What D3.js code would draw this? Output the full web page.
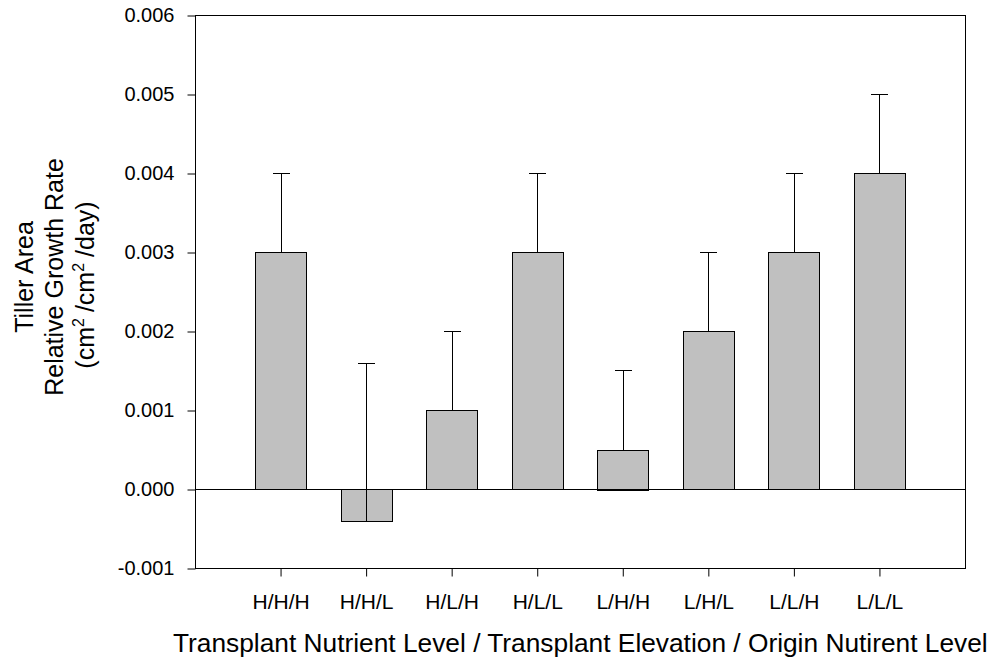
<!DOCTYPE html>
<html>
<head>
<meta charset="utf-8">
<script src="https://cdn.jsdelivr.net/npm/d3@7/dist/d3.min.js"></script>
<style>
  html, body { margin: 0; padding: 0; background: #fff; }
  svg { display: block; font-family: Arial, "Liberation Sans", sans-serif; }
</style>
</head>
<body>
<svg id="chart" width="997" height="666"></svg>
<script>
// Treatment groups: transplant nutrient / transplant elevation / origin nutrient
const categories = ["H/H/H", "H/H/L", "H/L/H", "H/L/L", "L/H/H", "L/H/L", "L/L/H", "L/L/L"];
// Mean tiller-area relative growth rate (cm²/cm²/day)
const meanRGR = [0.003, -0.0004, 0.001, 0.003, 0.0005, 0.002, 0.003, 0.004];
// Standard error, drawn upward from each mean
const errRGR = [0.001, 0.002, 0.001, 0.001, 0.001, 0.001, 0.001, 0.001];
// Y axis ticks
const yTicks = [-0.001, 0.000, 0.001, 0.002, 0.003, 0.004, 0.005, 0.006];

const svg = d3.select("#chart");
const plot = { left: 195, right: 965, top: 15, bottom: 568 };

const x = d3.scaleBand()
  .domain(categories)
  .range([plot.left, plot.right])
  .paddingInner(0.404)
  .paddingOuter(0.702);

const y = d3.scaleLinear()
  .domain([-0.001, 0.006])
  .range([plot.bottom, plot.top]);

// Bars
svg.append("g")
  .selectAll("rect")
  .data(categories)
  .join("rect")
  .attr("x", d => Math.round(x(d)) + 0.5)
  .attr("width", Math.round(x.bandwidth()))
  .attr("y", (d, i) => Math.round(y(Math.max(0, meanRGR[i]))) + 0.5)
  .attr("height", (d, i) => Math.round(Math.abs(y(meanRGR[i]) - y(0))))
  .attr("fill", "#c0c0c0")
  .attr("stroke", "#000")
  .attr("stroke-width", 1);

// Zero reference line
svg.append("line")
  .attr("x1", plot.left).attr("x2", plot.right)
  .attr("y1", Math.round(y(0)) + 0.5).attr("y2", Math.round(y(0)) + 0.5)
  .attr("stroke", "#000").attr("stroke-width", 1);

// Error bars (upper side)
const eb = svg.append("g").attr("stroke", "#000").attr("stroke-width", 1);
categories.forEach((c, i) => {
  const cx = Math.round(x(c) + x.bandwidth() / 2) + 0.5;
  const y0 = Math.round(y(meanRGR[i])) + 0.5;
  const y1 = Math.round(y(meanRGR[i] + errRGR[i])) + 0.5;
  eb.append("line").attr("x1", cx).attr("x2", cx).attr("y1", y0).attr("y2", y1);
  eb.append("line").attr("x1", cx - 8.5).attr("x2", cx + 8.5).attr("y1", y1).attr("y2", y1);
});

// Y axis (plain hyphen for negative values)
const fmt = d3.format(".3f");
const yAxis = svg.append("g")
  .attr("transform", `translate(${plot.left + 0.5},0.5)`)
  .call(d3.axisLeft(y).tickValues(yTicks)
    .tickFormat(d => fmt(d).replace("\u2212", "-"))
    .tickSize(8).tickPadding(13));
yAxis.select(".domain").remove();
yAxis.selectAll("text").attr("font-size", 20).attr("fill", "#000").attr("font-family", "Arial, 'Liberation Sans', sans-serif");
yAxis.selectAll("line").attr("stroke", "#000");

// X axis
const xAxis = svg.append("g")
  .attr("transform", `translate(0.5,${plot.bottom + 0.5})`)
  .call(d3.axisBottom(x).tickSize(8).tickPadding(18));
xAxis.select(".domain").remove();
xAxis.selectAll("text").attr("font-size", 21).attr("fill", "#000").attr("font-family", "Arial, 'Liberation Sans', sans-serif");
xAxis.selectAll("line").attr("stroke", "#000");

// Frame
svg.append("rect")
  .attr("x", plot.left + 0.5).attr("y", plot.top + 0.5)
  .attr("width", plot.right - plot.left).attr("height", plot.bottom - plot.top)
  .attr("fill", "none").attr("stroke", "#000").attr("stroke-width", 1);

// X title
svg.append("text")
  .attr("x", 173).attr("y", 652)
  .attr("font-size", 26.3)
  .attr("fill", "#000")
  .text("Transplant Nutrient Level / Transplant Elevation / Origin Nutirent Level");

// Y title, three lines
const yTitle = svg.append("text")
  .attr("transform", "translate(0,277) rotate(-90)")
  .attr("text-anchor", "middle")
  .attr("font-size", 25)
  .attr("fill", "#000");
yTitle.append("tspan").attr("x", 0).attr("y", 33).text("Tiller Area");
yTitle.append("tspan").attr("x", 0).attr("y", 63).text("Relative Growth Rate");
const l3 = yTitle.append("tspan").attr("x", -8).attr("y", 94);
l3.append("tspan").text("(cm");
l3.append("tspan").attr("dy", -10).attr("font-size", 16).text("2");
l3.append("tspan").attr("dy", 10).attr("dx", 6).text("/cm");
l3.append("tspan").attr("dy", -10).attr("font-size", 16).text("2");
l3.append("tspan").attr("dy", 10).attr("dx", 6).text("/day)");
</script>
</body>
</html>
